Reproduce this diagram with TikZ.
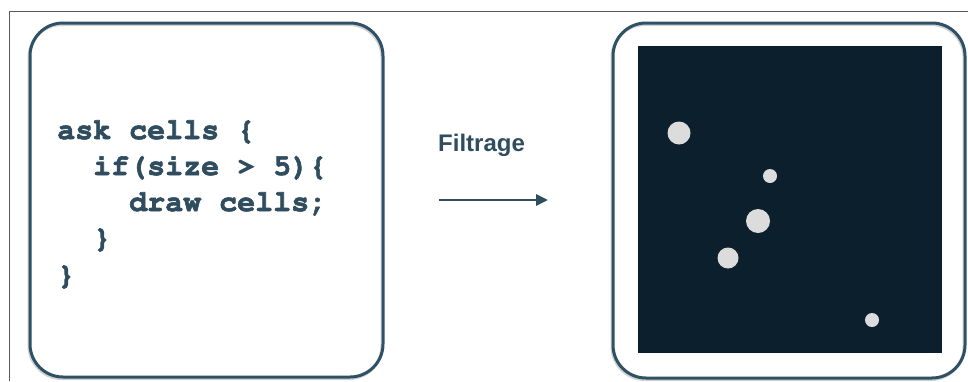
\documentclass[tikz,border=0pt]{standalone}
\usepackage{fontspec}
\setmainfont{Liberation Sans}
\usetikzlibrary{arrows.meta}
\definecolor{slate}{HTML}{2E5165}
\definecolor{codeink}{HTML}{2F4D5E}
\definecolor{night}{HTML}{0B1F2C}
\definecolor{spot}{HTML}{DCDCDC}
% heavy Courier for the code listing
\newcommand{\courierbold}{\fontencoding{T1}\fontfamily{pcr}\fontseries{b}\selectfont}
% thicken glyphs by stroking their outlines as well as filling them
\newcommand{\heavytext}[1]{\special{pdf:literal direct 2 Tr 0.6 w}#1\special{pdf:literal direct 0 Tr 1 w}}
\tikzset{
  panel/.style={draw=slate, line width=3pt, rounded corners=33pt},
  panelshade/.style={draw=black!18, line width=3pt, rounded corners=33pt},
  codeline/.style={anchor=base west, inner sep=0pt, text=codeink,
    font=\fontsize{30}{36}\courierbold},
  caption/.style={anchor=base west, inner sep=0pt, text=codeink,
    font=\fontsize{24}{28}\selectfont\bfseries},
  cell/.style={circle, fill=spot, inner sep=0pt, draw=none},
  flow/.style={draw=codeink, line width=2.8pt,
    -{Triangle[length=12pt, width=11pt]}}
}
\begin{document}
\begin{tikzpicture}[x=1pt, y=-1pt]
  \useasboundingbox[fill=white] (0,0) rectangle (968,381);
  % thin page frame on the top and left
  \draw[black!65, line width=0.9pt] (9,381) -- (9,11) -- (968,11);

  % left panel: the filtering rule
  \draw[panelshade] (29,24.5) rectangle (382,378.5);
  \draw[panel] (30,23) rectangle (383,377);
  \node[codeline] (l1) at (57,139) {\heavytext{ask cells \{}};
  \node[codeline] (l2) at (93,175) {\heavytext{if(size > 5)\{}};
  \node[codeline] (l3) at (129,211) {\heavytext{draw cells;}};
  \node[codeline] (l4) at (93,247) {\heavytext{\}}};
  \node[codeline] (l5) at (57,284) {\heavytext{\}}};

  % filtering step
  \node[caption] (cap) at (438,151) {Filtrage};
  \coordinate (from) at (439,200);
  \coordinate (to) at (548,200);
  \draw[flow] (from) -- (to);

  % right panel: resulting cells
  \draw[panelshade] (612,24.5) rectangle (964,379.5);
  \draw[panel] (613,23) rectangle (965,378);
  \fill[night] (638,46) rectangle (942,353);
  \node[cell, minimum size=23pt] (c1) at (679,133) {};
  \node[cell, minimum size=14pt] (c2) at (770,176) {};
  \node[cell, minimum size=24pt] (c3) at (758,221) {};
  \node[cell, minimum size=21pt] (c4) at (728,258) {};
  \node[cell, minimum size=14pt] (c5) at (872,320) {};
\end{tikzpicture}
\end{document}
